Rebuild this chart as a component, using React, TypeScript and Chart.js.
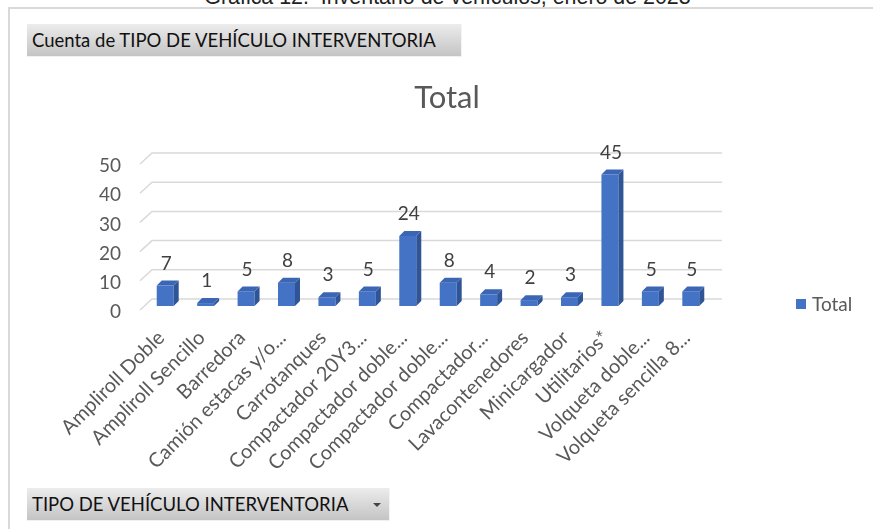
import React, { useEffect, useRef } from "react";
import { Chart, registerables } from "chart.js";

Chart.register(...registerables);

const categories = [
  "Ampliroll Doble",
  "Ampliroll Sencillo",
  "Barredora",
  "Camión estacas y/o...",
  "Carrotanques",
  "Compactador 20Y3...",
  "Compactador doble...",
  "Compactador doble...",
  "Compactador...",
  "Lavacontenedores",
  "Minicargador",
  "Utilitarios*",
  "Volqueta doble...",
  "Volqueta sencilla 8...",
];
const totals = [7, 1, 5, 8, 3, 5, 24, 8, 4, 2, 3, 45, 5, 5];
const seriesName = "Total";
const yMin = 0;
const yMax = 50;
const yStep = 10;

const captionText = "Gráfica 12.  Inventario de vehículos, enero de 2023";
const valueFieldText = "Cuenta de TIPO DE VEHÍCULO INTERVENTORIA";
const axisFieldText = "TIPO DE VEHÍCULO INTERVENTORIA";

const FRONT = "#4472c4";
const SIDE = "#2f5597";
const TOP = "#3b66b5";
const DX = 5;
const DY = 5;

const bar3dPlugin = {
  id: "bar3d",
  beforeDatasetsDraw(chart: any) {
    const ctx = chart.ctx;
    const ys = chart.scales.y;
    const { left, right } = chart.chartArea;
    ctx.save();
    ctx.strokeStyle = "#d9d9d9";
    ctx.lineWidth = 1.5;
    ys.ticks.forEach((t: any) => {
      const py = ys.getPixelForValue(t.value);
      ctx.beginPath();
      ctx.moveTo(left - 5, py + 4);
      ctx.lineTo(left + 7, py - 7);
      ctx.lineTo(right + 11, py - 7);
      ctx.stroke();
    });
    ctx.restore();
  },
  afterDatasetsDraw(chart: any) {
    const ctx = chart.ctx;
    const meta = chart.getDatasetMeta(0);
    const data = chart.data.datasets[0].data;
    ctx.save();
    meta.data.forEach((bar: any, i: number) => {
      const { x, y, base, width } = bar.getProps(["x", "y", "base", "width"], true);
      const l = x - width / 2;
      const r = x + width / 2;
      ctx.fillStyle = SIDE;
      ctx.beginPath();
      ctx.moveTo(r, y);
      ctx.lineTo(r + DX, y - DY);
      ctx.lineTo(r + DX, base - DY);
      ctx.lineTo(r, base);
      ctx.closePath();
      ctx.fill();
      ctx.fillStyle = TOP;
      ctx.beginPath();
      ctx.moveTo(l, y);
      ctx.lineTo(l + DX, y - DY);
      ctx.lineTo(r + DX, y - DY);
      ctx.lineTo(r, y);
      ctx.closePath();
      ctx.fill();
      ctx.fillStyle = "#404040";
      ctx.font = "19px Lato";
      ctx.textAlign = "center";
      ctx.textBaseline = "middle";
      ctx.fillText(String(data[i]), x + 1, y - 22);
    });
    ctx.restore();
  },
};

export default function App() {
  const canvasRef = useRef<HTMLCanvasElement | null>(null);

  useEffect(() => {
    const canvas = canvasRef.current;
    if (!canvas) return;
    const chart = new Chart(canvas, {
      type: "bar",
      data: {
        labels: categories,
        datasets: [
          {
            label: seriesName,
            data: totals,
            backgroundColor: FRONT,
            borderWidth: 0,
            categoryPercentage: 1,
            barPercentage: 0.42,
          },
        ],
      },
      options: {
        animation: false,
        responsive: false,
        devicePixelRatio: 1,
        layout: { padding: { left: 85, right: 162, top: 160, bottom: 13 } },
        plugins: {
          legend: { display: false },
          title: { display: false },
          tooltip: { enabled: false },
        },
        scales: {
          x: {
            grid: { display: false, drawTicks: false },
            border: { display: false },
            ticks: {
              autoSkip: false,
              maxRotation: 45,
              minRotation: 45,
              padding: 20,
              labelOffset: -4,
              color: "#595959",
              font: { family: "Lato", size: 20 },
            },
            afterFit: (s: any) => {
              s.height = 210;
            },
          },
          y: {
            min: yMin,
            max: yMax,
            grid: { display: false, drawTicks: false },
            border: { display: false },
            ticks: {
              stepSize: yStep,
              padding: 24,
              labelOffset: 6,
              color: "#595959",
              font: { family: "Lato", size: 19 },
            },
            afterFit: (s: any) => {
              s.width = 60;
            },
          },
        },
      },
      plugins: [bar3dPlugin],
    });
    return () => chart.destroy();
  }, []);

  const btn: React.CSSProperties = {
    position: "absolute",
    boxSizing: "border-box",
    background: "linear-gradient(#ececec, #c4c4c4)",
    borderRight: "1px solid #f4f4f4",
    borderBottom: "1px solid #f0f0f0",
    fontFamily: "Lato",
    fontSize: 18.5,
    color: "#111",
    display: "flex",
    alignItems: "center",
    paddingLeft: 5,
    whiteSpace: "nowrap",
  };

  return (
    <div
      style={{
        position: "fixed",
        left: 0,
        top: 0,
        width: 873,
        height: 529,
        overflow: "hidden",
        background: "#fff",
      }}
    >
      <div
        style={{
          position: "absolute",
          left: 0,
          top: -14,
          width: 895,
          textAlign: "center",
          fontFamily: "'Liberation Sans', Arial",
          fontSize: 21.4,
          lineHeight: "22px",
          color: "#222",
          whiteSpace: "pre",
        }}
      >
        {captionText}
      </div>
      <div
        style={{
          position: "absolute",
          left: 8,
          top: 7,
          width: 1000,
          height: 1000,
          border: "2px solid #d9d9d9",
        }}
      />
      <canvas
        ref={canvasRef}
        width={873}
        height={529}
        style={{ position: "absolute", left: 0, top: 0, width: 873, height: 529 }}
      />
      <div style={{ ...btn, left: 27, top: 24, width: 435, height: 33 }}>{valueFieldText}</div>
      <div style={{ ...btn, left: 27, top: 488, width: 363, height: 33 }}>
        {axisFieldText}
        <span
          style={{
            position: "absolute",
            left: 346,
            top: 15,
            width: 0,
            height: 0,
            borderLeft: "4px solid transparent",
            borderRight: "4px solid transparent",
            borderTop: "4px solid #444",
          }}
        />
      </div>
      <div
        style={{
          position: "absolute",
          left: 347,
          top: 77,
          width: 200,
          textAlign: "center",
          fontFamily: "Lato",
          fontSize: 31,
          lineHeight: "38px",
          color: "#595959",
        }}
      >
        {seriesName}
      </div>
      <div
        style={{
          position: "absolute",
          left: 796,
          top: 292,
          display: "flex",
          alignItems: "center",
          fontFamily: "Lato",
          fontSize: 19,
          lineHeight: "24px",
          color: "#595959",
        }}
      >
        <span style={{ width: 10, height: 10, background: FRONT, marginRight: 6, display: "inline-block" }} />
        {seriesName}
      </div>
    </div>
  );
}
